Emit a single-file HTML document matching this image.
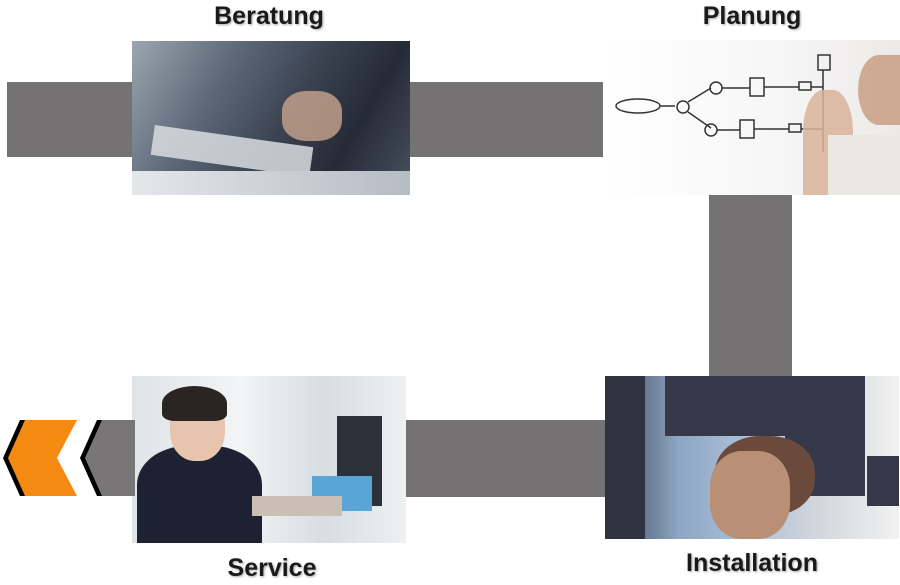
<!DOCTYPE html>
<html><head><meta charset="utf-8"><style>
body{margin:0;width:900px;height:585px;background:#fff;position:relative;overflow:hidden;font-family:"Liberation Sans",sans-serif}
.a{position:absolute}
.bar{background:#747272}
.lbl{position:absolute;font-weight:bold;font-size:25px;color:#1a1a1a;text-shadow:1px 1px 2px rgba(0,0,0,.35);white-space:nowrap;transform:translateX(-50%)}
</style></head><body>
<div class="a bar" style="left:7px;top:82px;width:599px;height:75px"></div>
<div class="a bar" style="left:709px;top:190px;width:83px;height:190px"></div>
<div class="a bar" style="left:400px;top:420px;width:210px;height:77px"></div>

<!-- Beratung image -->
<div class="a" style="left:132px;top:41px;width:278px;height:154px;background:linear-gradient(120deg,#9ca6b0 0%,#5d6878 30%,#3a4250 55%,#252b36 75%,#4a5160 100%)">
 <div class="a" style="left:20px;top:95px;width:160px;height:30px;background:#d8dde2;transform:rotate(8deg);opacity:.85"></div>
 <div class="a" style="left:150px;top:50px;width:60px;height:50px;background:#c9a58e;border-radius:40%;opacity:.8"></div>
 <div class="a" style="left:0;top:130px;width:278px;height:24px;background:linear-gradient(90deg,#e4e7ea,#b5bcc4)"></div>
</div>

<!-- Planung image -->
<div class="a" style="left:603px;top:40px;width:297px;height:155px;background:linear-gradient(90deg,#fff 0%,#f6f6f6 60%,#eceae8 100%)">
 <svg width="297" height="155" class="a" style="left:0;top:0" stroke="#333" fill="none" stroke-width="1.5">
  <ellipse cx="35" cy="66" rx="22" ry="7"/><line x1="57" y1="66" x2="72" y2="66"/>
  <circle cx="80" cy="67" r="6"/><line x1="85" y1="62" x2="108" y2="48"/><line x1="85" y1="72" x2="108" y2="88"/>
  <circle cx="113" cy="48" r="6"/><circle cx="108" cy="90" r="6"/>
  <rect x="147" y="38" width="14" height="18"/><rect x="137" y="80" width="14" height="18"/>
  <line x1="119" y1="48" x2="147" y2="48"/><line x1="114" y1="90" x2="137" y2="90"/>
  <line x1="161" y1="47" x2="196" y2="47"/><line x1="151" y1="89" x2="186" y2="89"/>
  <rect x="196" y="42" width="12" height="8"/><rect x="186" y="84" width="12" height="8"/>
  <line x1="208" y1="47" x2="220" y2="47"/><line x1="198" y1="89" x2="220" y2="89"/>
  <line x1="220" y1="30" x2="220" y2="112"/><rect x="215" y="15" width="12" height="15"/>
 </svg>
 <div class="a" style="left:200px;top:50px;width:50px;height:105px;background:#d9b39a;border-radius:40% 40% 0 0;opacity:.85"></div>
 <div class="a" style="left:255px;top:15px;width:42px;height:70px;background:#c69a7c;border-radius:50% 0 0 50%;opacity:.8"></div>
 <div class="a" style="left:225px;top:95px;width:72px;height:60px;background:#ebe8e4"></div>
</div>

<!-- Service image -->
<div class="a" style="left:132px;top:376px;width:274px;height:167px;background:linear-gradient(90deg,#dfe4e8 0%,#f2f4f5 40%,#d7dde2 70%,#eef1f3 100%)">
 <div class="a" style="left:5px;top:70px;width:125px;height:97px;background:#1d2233;border-radius:40% 40% 0 0"></div>
 <div class="a" style="left:38px;top:20px;width:55px;height:65px;background:#e7c4ae;border-radius:45%"></div>
 <div class="a" style="left:30px;top:10px;width:65px;height:35px;background:#2a2422;border-radius:50% 50% 20% 20%"></div>
 <div class="a" style="left:205px;top:40px;width:45px;height:90px;background:#2c3038"></div>
 <div class="a" style="left:180px;top:100px;width:60px;height:35px;background:#59a6d6"></div>
 <div class="a" style="left:120px;top:120px;width:90px;height:20px;background:#c9bfb4"></div>
</div>

<!-- Installation image -->
<div class="a" style="left:605px;top:376px;width:294px;height:163px;background:linear-gradient(90deg,#3a4050 0%,#8ea6c4 25%,#a7bcd6 45%,#d6d9dd 75%,#f1f1f1 100%)">
 <div class="a" style="left:60px;top:0;width:200px;height:60px;background:#343848"></div>
 <div class="a" style="left:180px;top:60px;width:80px;height:60px;background:#343848"></div>
 <div class="a" style="left:262px;top:80px;width:32px;height:50px;background:#343848"></div>
 <div class="a" style="left:110px;top:60px;width:100px;height:80px;background:#6b4a3c;border-radius:45%"></div>
 <div class="a" style="left:105px;top:75px;width:80px;height:88px;background:#b98f76;border-radius:40%"></div>
 <div class="a" style="left:0;top:0;width:40px;height:163px;background:#2d3440"></div>
</div>

<svg class="a" style="left:0;top:415px" width="140" height="90">
 <polygon points="20,5 70,5 50,43 70,81 20,81 3,43" fill="#000"/>
 <polygon points="25,5 77,5 57,43 77,81 25,81 8,43" fill="#f58a13"/>
 <polygon points="97,5 135,5 135,81 97,81 80,43" fill="#000"/>
 <polygon points="102,5 135,5 135,81 102,81 85,43" fill="#787676"/>
</svg>

<div class="lbl" style="left:269px;top:2px">Beratung</div>
<div class="lbl" style="left:752px;top:2px">Planung</div>
<div class="lbl" style="left:272px;top:554px">Service</div>
<div class="lbl" style="left:752px;top:549px">Installation</div>
</body></html>
